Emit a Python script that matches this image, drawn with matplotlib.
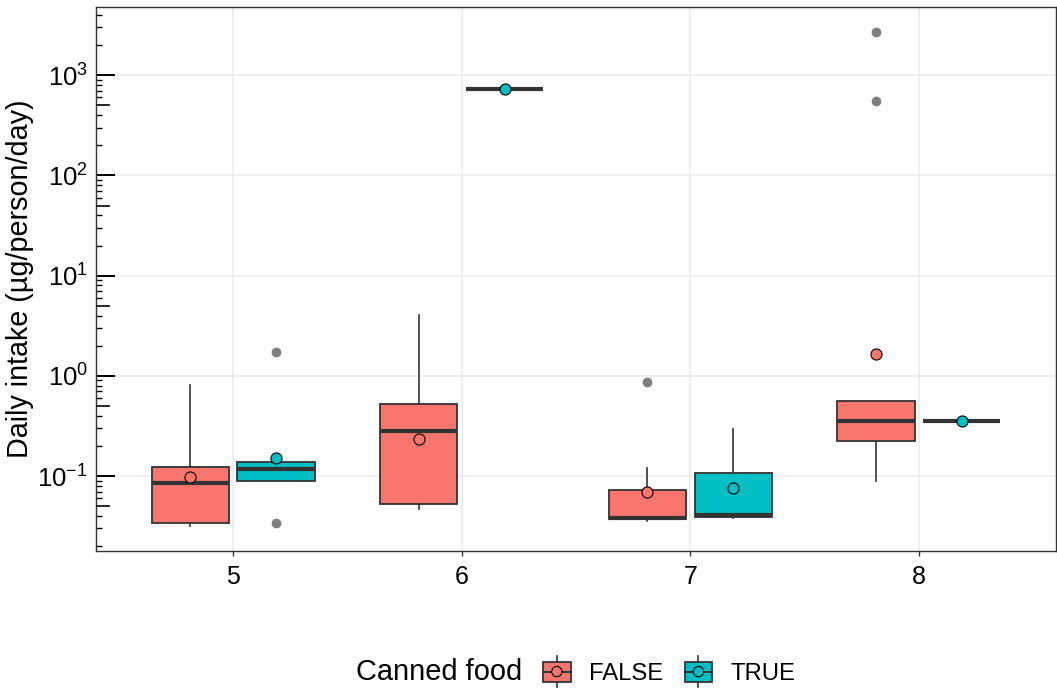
import matplotlib
matplotlib.use("Agg")
import matplotlib.pyplot as plt
import matplotlib.transforms as mtransforms
from matplotlib.patches import Patch, Rectangle, Circle
from matplotlib.lines import Line2D
from matplotlib.legend_handler import HandlerBase
import numpy as np

plt.rcParams['font.family'] = ['Liberation Sans', 'DejaVu Sans']
plt.rcParams['mathtext.fontset'] = 'custom'
plt.rcParams['mathtext.rm'] = 'Liberation Sans'
plt.rcParams['mathtext.it'] = 'Liberation Sans:italic'

# number of people in household
groups = [5, 6, 7, 8]

# canned food = FALSE
false_whislo = [0.0318, 0.0468, 0.0358, 0.0898]
false_q1 = [0.0337, 0.0526, 0.0370, 0.225]
false_med = [0.0846, 0.283, 0.0384, 0.356]
false_q3 = [0.122, 0.523, 0.072, 0.564]
false_whishi = [0.807, 4.03, 0.121, 0.564]
false_mean = [0.097, 0.235, 0.069, 1.67]
false_fliers = [[], [], [0.859], [551, 2700]]

# canned food = TRUE
true_whislo = [0.0898, 730, 0.0379, 0.353]
true_q1 = [0.0898, 730, 0.0393, 0.353]
true_med = [0.117, 730, 0.0408, 0.353]
true_q3 = [0.139, 730, 0.108, 0.353]
true_whishi = [0.139, 730, 0.292, 0.353]
true_mean = [0.152, 730, 0.0754, 0.353]
true_fliers = [[0.0337, 1.75], [], [], []]

FALSE_COL = '#F8766D'
TRUE_COL = '#00BFC4'
LINE_COL = '#333333'


def make_stats(whislo, q1, med, q3, whishi, mean, fliers):
    return [dict(whislo=a, q1=b, med=c, q3=d, whishi=e, mean=f, fliers=g)
            for a, b, c, d, e, f, g in zip(whislo, q1, med, q3, whishi, mean, fliers)]


def draw_boxes(ax, stats, positions, color):
    ax.bxp(stats, positions=positions, widths=0.3375, patch_artist=True,
           showcaps=False, showmeans=True,
           boxprops=dict(facecolor=color, edgecolor=LINE_COL, linewidth=1.3),
           medianprops=dict(color=LINE_COL, linewidth=3.0, solid_capstyle='butt'),
           whiskerprops=dict(color=LINE_COL, linewidth=1.2),
           flierprops=dict(marker='o', markersize=6, markerfacecolor='#7F7F7F',
                           markeredgecolor='#7F7F7F', linestyle='none'),
           meanprops=dict(marker='o', markersize=8, markerfacecolor=color,
                          markeredgecolor='black', markeredgewidth=0.8,
                          zorder=5),
           manage_ticks=False)


class BoxKeyHandler(HandlerBase):
    def create_artists(self, legend, orig_handle, xdescent, ydescent,
                       width, height, fontsize, trans):
        color = orig_handle.get_facecolor()
        cx = width / 2 - xdescent
        cy = height / 2 - ydescent
        bh = 14.4
        wh = 11.2
        whisk = Line2D([cx, cx], [cy - wh, cy + wh], color=LINE_COL,
                       linewidth=1.2, transform=trans)
        box = Rectangle((-xdescent, cy - bh / 2), width, bh, facecolor=color,
                        edgecolor=LINE_COL, linewidth=1.3, transform=trans)
        med = Line2D([-xdescent, width - xdescent], [cy, cy], color=LINE_COL,
                     linewidth=1.4, transform=trans)
        dot = Circle((cx, cy), 3.7, facecolor=color, edgecolor='black',
                     linewidth=0.8, transform=trans)
        return [whisk, box, med, dot]


fig = plt.figure(figsize=(10.57, 6.91), dpi=100)
ax = fig.add_axes([96 / 1057, 1 - 550.7 / 691, 960 / 1057, 543.7 / 691])

x = np.array(groups, dtype=float)
draw_boxes(ax, make_stats(false_whislo, false_q1, false_med, false_q3,
                          false_whishi, false_mean, false_fliers),
           x - 0.1875, FALSE_COL)
draw_boxes(ax, make_stats(true_whislo, true_q1, true_med, true_q3,
                          true_whishi, true_mean, true_fliers),
           x + 0.1875, TRUE_COL)

ax.set_yscale('log')
ax.set_xticks(groups)
ax.set_xticklabels([str(g) for g in groups])

decades = [-1, 0, 1, 2, 3]
ax.set_yticks([10.0 ** d for d in decades])
ax.set_yticklabels([r'$\mathregular{10^{%d}}$' % d for d in decades])
minor = [m * 10.0 ** d for d in range(-2, 4) for m in (2, 3, 4, 6, 7, 8, 9)]
ax.set_yticks(minor, minor=True)
ax.yaxis.set_minor_formatter(plt.NullFormatter())
ax.set_ylim(0.018, 4800)
ax.set_xlim(4.4, 8.6)

ax.tick_params(axis='y', which='major', direction='in', length=13.7, width=1.4,
               color='black', pad=5.8, labelsize=18.5, labelcolor='black')
ax.tick_params(axis='y', which='minor', direction='in', length=4.3, width=1.0,
               color='black')
ax.tick_params(axis='x', which='major', direction='out', length=3.6, width=1.0,
               color=LINE_COL, pad=7, labelsize=18, labelcolor='black')

# mid-length log ticks at 5 x 10^k
blend = mtransforms.blended_transform_factory(ax.transAxes, ax.transData)
for d in range(-2, 4):
    ax.plot([0, 0.0132], [5 * 10.0 ** d] * 2, color='black', linewidth=1.2,
            transform=blend, clip_on=True, zorder=3)

ax.grid(True, which='major', color='#EBEBEB', linewidth=1.1)
ax.set_axisbelow(True)
for sp in ax.spines.values():
    sp.set_color(LINE_COL)
    sp.set_linewidth(1.0)

ax.set_ylabel('Daily intake (µg/person/day)', fontsize=20.7)
ax.yaxis.set_label_coords(-0.0646, 0.5)

fig.text(356 / 1057, 1 - 672 / 691, 'Canned food', fontsize=20.9,
         ha='left', va='center')
handles = [Patch(facecolor=FALSE_COL), Patch(facecolor=TRUE_COL)]
fig.legend(handles, ['FALSE', 'TRUE'], ncol=2, frameon=False,
           loc='center left', bbox_to_anchor=(543 / 1057, 1 - 672 / 691),
           borderpad=0, borderaxespad=0, handlelength=1.16, handleheight=1.2,
           handletextpad=0.76, columnspacing=0.9, fontsize=17.2,
           handler_map={Patch: BoxKeyHandler()})

fig.savefig('out.png', dpi=100)
